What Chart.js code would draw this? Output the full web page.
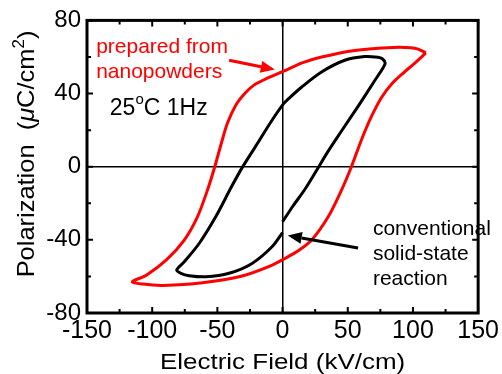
<!DOCTYPE html>
<html>
<head>
<meta charset="utf-8">
<script src="https://cdn.jsdelivr.net/npm/chart.js@4"></script>
<style>
  body { margin: 0; background: #fff; }
</style>
</head>
<body>
<canvas id="peChart" width="502" height="374"></canvas>
<script>
// P-E hysteresis loops, 25 C 1 Hz

const xTicks = [-150, -100, -50, 0, 50, 100, 150];
const yTicks = [-80, -40, 0, 40, 80];
const xMinor = [-125, -75, -25, 25, 75, 125];
const yMinor = [-60, -20, 20, 60];

// prepared from nanopowders (red loop)
const nanoField = [109.9, 104, 98.5, 80.7, 55.4, 29.9, 15, 0.8, -13.2, -22, -29, -36, -42.4, -47, -52, -57.6, -65.3, -75.4, -89.3, -104.5, -115.2,
  -107.1, -91.9, -61.4, -31, -10.7, 2, 12, 22.3, 35, 45.2, 52.8, 60.4, 68, 76, 84, 93, 101, 109.9];
const nanoPol = [62.2, 64.3, 65.1, 65.1, 63.6, 60, 56.8, 52.2, 47.9, 44.6, 40, 33.5, 23.6, 12.7, 0, -12.8, -27.4, -40.1, -51.1, -59.3, -62.9,
  -64.2, -64.9, -63.5, -59.8, -54.7, -50.1, -46, -40.1, -27.4, -12.8, 0, 14.5, 27.2, 38, 45.5, 51.5, 56.4, 62.2];

// conventional solid-state reaction (black loop)
const convField = [0, 8, 17.3, 26.5, 35, 45.2, 57.9, 70.6, 77, 78.7, 76.5, 73.1, 63, 47.7, 29.9, 14.7, 4.6, 0.8, -8.1, -20.8, -31, -39.2, -51.3, -64, -75.4, -81.2,
  -78, -71.6, -58.9, -41.1, -23.4, -8.1, 0];
const convPol = [-30.1, -21.5, -12.2, -1.5, 8.5, 19.5, 33, 47, 54, 56.7, 59, 59.8, 60.2, 58.2, 51.8, 43.6, 37.2, 34.5, 25.4, 11, -0.5, -11, -27.4, -42, -52, -56.5,
  -58.3, -59.6, -60.2, -58.3, -52.9, -43.8, -36];

const toPoints = (xs, ys) => xs.map((v, i) => ({x: v, y: ys[i]}));

const FONT = '"Liberation Sans", Arial, Helvetica, sans-serif';

const labels = [
  {text: ['prepared from', 'nanopowders'], x: -143, y: [65.3, 51.6], color: '#ff0000'},
  {text: ['conventional', 'solid-state', 'reaction'], x: 69.3, y: [-34.2, -47.8, -61.5], color: '#000'}
];
const arrows = [
  {from: [-41, 58.2], to: [-6, 53.1], color: '#ff0000'},
  {from: [57.9, -44.5], to: [4, -37.6], color: '#000'}
];

function piecesWidth(ctx, pieces) {
  let w = 0;
  pieces.forEach(([t, size, style]) => {
    ctx.font = style + ' ' + size + 'px ' + FONT;
    w += ctx.measureText(t).width;
  });
  return w;
}

function drawPieces(ctx, pieces, x, y) {
  // pieces: [text, size, style, rise]
  let cx = x;
  pieces.forEach(([t, size, style, rise]) => {
    ctx.font = style + ' ' + size + 'px ' + FONT;
    ctx.fillText(t, cx, y - rise);
    cx += ctx.measureText(t).width;
  });
}

const decorations = {
  id: 'decorations',
  afterDatasetsDraw(chart) {
    const {ctx, chartArea: a, scales: {x, y}} = chart;
    ctx.save();

    // inward tick marks on all four sides
    ctx.strokeStyle = '#000';
    ctx.lineWidth = 2;
    const tx = (vals, len) => vals.forEach(v => {
      const p = x.getPixelForValue(v);
      ctx.beginPath();
      ctx.moveTo(p, a.bottom); ctx.lineTo(p, a.bottom - len);
      ctx.moveTo(p, a.top); ctx.lineTo(p, a.top + len);
      ctx.stroke();
    });
    const ty = (vals, len) => vals.forEach(v => {
      const p = y.getPixelForValue(v);
      ctx.beginPath();
      ctx.moveTo(a.left, p); ctx.lineTo(a.left + len, p);
      ctx.moveTo(a.right, p); ctx.lineTo(a.right - len, p);
      ctx.stroke();
    });
    tx(xTicks, 6); tx(xMinor, 4);
    ty(yTicks, 6); ty(yMinor, 4);

    // frame
    ctx.lineWidth = 3;
    ctx.strokeRect(a.left, a.top, a.right - a.left, a.bottom - a.top);

    // text notes
    ctx.textBaseline = 'middle';
    ctx.textAlign = 'left';
    labels.forEach(l => {
      ctx.fillStyle = l.color;
      ctx.font = '21px ' + FONT;
      l.text.forEach((t, i) => ctx.fillText(t, x.getPixelForValue(l.x), y.getPixelForValue(l.y[i])));
    });

    ctx.fillStyle = '#000';
    drawPieces(ctx, [['25', 23, '', 0], ['o', 15, '', 8], ['C 1Hz', 23, '', 0]],
      x.getPixelForValue(-132.5), y.getPixelForValue(32));

    // arrows
    arrows.forEach(ar => {
      const x0 = x.getPixelForValue(ar.from[0]), y0 = y.getPixelForValue(ar.from[1]);
      const x1 = x.getPixelForValue(ar.to[0]), y1 = y.getPixelForValue(ar.to[1]);
      const ang = Math.atan2(y1 - y0, x1 - x0);
      const hl = 14, hw = 6;
      const bx = x1 - hl * Math.cos(ang), by = y1 - hl * Math.sin(ang);
      ctx.strokeStyle = ar.color;
      ctx.fillStyle = ar.color;
      ctx.lineWidth = 3;
      ctx.beginPath();
      ctx.moveTo(x0, y0); ctx.lineTo(bx, by);
      ctx.stroke();
      ctx.beginPath();
      ctx.moveTo(x1, y1);
      ctx.lineTo(bx + hw * Math.sin(ang), by - hw * Math.cos(ang));
      ctx.lineTo(bx - hw * Math.sin(ang), by + hw * Math.cos(ang));
      ctx.closePath();
      ctx.fill();
    });

    // axis titles
    ctx.fillStyle = '#000';
    ctx.textBaseline = 'alphabetic';
    ctx.textAlign = 'left';
    const xTitle = [['Electric Field (kV/cm)', 22, '', 0]];
    ctx.save();
    ctx.translate((a.left + a.right) / 2, 369);
    ctx.scale(1.18, 1);
    const xw = piecesWidth(ctx, xTitle);
    drawPieces(ctx, xTitle, -xw / 2, 0);
    ctx.restore();

    const yTitle = [['Polarization  (', 24, '', 0], ['\u03bc', 24, 'italic', 0], ['C/cm', 24, '', 0], ['2', 16, '', 10], [')', 24, '', 0]];
    ctx.translate(34, 154);
    ctx.rotate(-Math.PI / 2);
    ctx.scale(1.06, 1);
    const yw = piecesWidth(ctx, yTitle);
    drawPieces(ctx, yTitle, -yw / 2, 0);

    ctx.restore();
  }
};

const zeroLine = c => c.tick && c.tick.value === 0 ? '#000' : 'rgba(0,0,0,0)';

new Chart(document.getElementById('peChart').getContext('2d'), {
  type: 'scatter',
  data: {
    datasets: [{
      label: 'prepared from nanopowders',
      data: toPoints(nanoField, nanoPol),
      showLine: true,
      borderColor: '#ff0000',
      borderWidth: 3,
      pointRadius: 0,
      tension: 0.3
    }, {
      label: 'conventional solid-state reaction',
      data: toPoints(convField, convPol),
      showLine: true,
      borderColor: '#000000',
      borderWidth: 3,
      pointRadius: 0,
      tension: 0.3
    }]
  },
  options: {
    responsive: false,
    animation: false,
    layout: { padding: { top: 20, right: 21, left: 0, bottom: 0 } },
    scales: {
      x: {
        type: 'linear',
        min: -150,
        max: 150,
        afterBuildTicks: s => { s.ticks = xTicks.map(v => ({value: v})); },
        afterFit: s => { s.height = 61; },
        grid: { color: zeroLine, lineWidth: 1.5, drawTicks: false },
        border: { display: false },
        ticks: { color: '#000', padding: 3, font: { family: FONT, size: 25 } }
      },
      y: {
        type: 'linear',
        min: -80,
        max: 80,
        afterBuildTicks: s => { s.ticks = yTicks.map(v => ({value: v})); },
        afterFit: s => { s.width = 87; },
        grid: { color: zeroLine, lineWidth: 1.5, drawTicks: false },
        border: { display: false },
        ticks: { color: '#000', padding: 6, font: { family: FONT, size: 24 } }
      }
    },
    plugins: {
      legend: { display: false },
      tooltip: { enabled: false }
    }
  },
  plugins: [decorations]
});
</script>
</body>
</html>
